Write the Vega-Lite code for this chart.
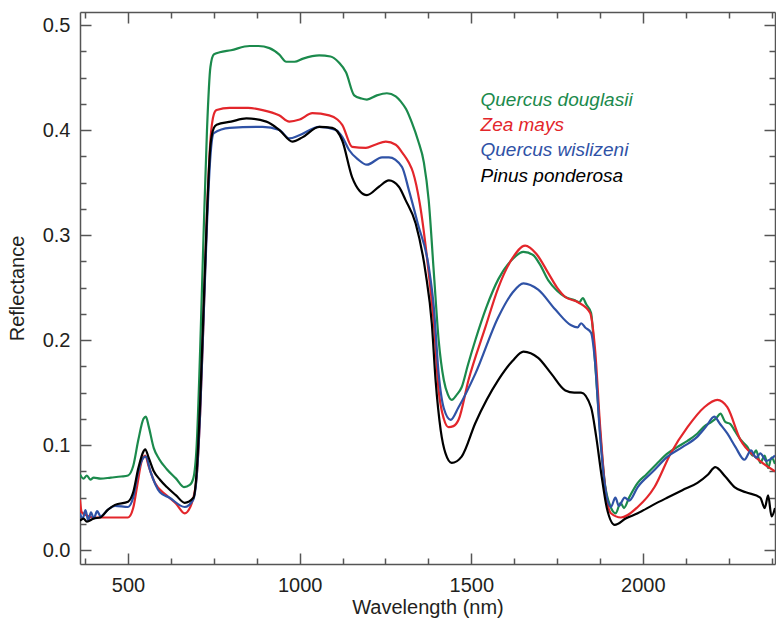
{
  "$schema": "https://vega.github.io/schema/vega-lite/v6.json",
  "autosize": "none",
  "width": 695,
  "height": 552,
  "padding": {"left": 80, "top": 12, "right": 1, "bottom": 55},
  "background": "white",
  "config": {
    "view": {"stroke": null},
    "font": "Liberation Sans",
    "axis": {
      "grid": false,
      "labelFont": "Liberation Sans",
      "labelFontSize": 20,
      "labelColor": "#231f20",
      "titleFont": "Liberation Sans",
      "titleFontSize": 20,
      "titleFontWeight": "normal",
      "titleColor": "#231f20",
      "domainColor": "#555555",
      "tickColor": "#555555",
      "domainWidth": 1.5,
      "tickWidth": 1.5
    }
  },
  "datasets": {
    "labels": [
      {"species": "Quercus douglasii", "wl": 1527, "r": 0.4286},
      {"species": "Zea mays", "wl": 1527, "r": 0.4048},
      {"species": "Quercus wislizeni", "wl": 1527, "r": 0.381},
      {"species": "Pinus ponderosa", "wl": 1527, "r": 0.356}
    ],
    "spectra": [
      {"species": "Quercus douglasii", "wl": 360, "r": 0.072},
      {"species": "Quercus douglasii", "wl": 370, "r": 0.068},
      {"species": "Quercus douglasii", "wl": 380, "r": 0.071},
      {"species": "Quercus douglasii", "wl": 390, "r": 0.067},
      {"species": "Quercus douglasii", "wl": 400, "r": 0.069},
      {"species": "Quercus douglasii", "wl": 420, "r": 0.068},
      {"species": "Quercus douglasii", "wl": 450, "r": 0.069},
      {"species": "Quercus douglasii", "wl": 480, "r": 0.070},
      {"species": "Quercus douglasii", "wl": 500, "r": 0.071},
      {"species": "Quercus douglasii", "wl": 515, "r": 0.080},
      {"species": "Quercus douglasii", "wl": 530, "r": 0.105},
      {"species": "Quercus douglasii", "wl": 545, "r": 0.125},
      {"species": "Quercus douglasii", "wl": 552, "r": 0.127},
      {"species": "Quercus douglasii", "wl": 560, "r": 0.118},
      {"species": "Quercus douglasii", "wl": 575, "r": 0.097},
      {"species": "Quercus douglasii", "wl": 590, "r": 0.087},
      {"species": "Quercus douglasii", "wl": 613, "r": 0.077},
      {"species": "Quercus douglasii", "wl": 640, "r": 0.068},
      {"species": "Quercus douglasii", "wl": 663, "r": 0.060},
      {"species": "Quercus douglasii", "wl": 680, "r": 0.062},
      {"species": "Quercus douglasii", "wl": 690, "r": 0.068},
      {"species": "Quercus douglasii", "wl": 700, "r": 0.10},
      {"species": "Quercus douglasii", "wl": 710, "r": 0.19},
      {"species": "Quercus douglasii", "wl": 720, "r": 0.30},
      {"species": "Quercus douglasii", "wl": 730, "r": 0.40},
      {"species": "Quercus douglasii", "wl": 740, "r": 0.46},
      {"species": "Quercus douglasii", "wl": 750, "r": 0.472},
      {"species": "Quercus douglasii", "wl": 767, "r": 0.474},
      {"species": "Quercus douglasii", "wl": 800, "r": 0.476},
      {"species": "Quercus douglasii", "wl": 854, "r": 0.480},
      {"species": "Quercus douglasii", "wl": 880, "r": 0.480},
      {"species": "Quercus douglasii", "wl": 912, "r": 0.478},
      {"species": "Quercus douglasii", "wl": 940, "r": 0.472},
      {"species": "Quercus douglasii", "wl": 961, "r": 0.465},
      {"species": "Quercus douglasii", "wl": 985, "r": 0.465},
      {"species": "Quercus douglasii", "wl": 1010, "r": 0.468},
      {"species": "Quercus douglasii", "wl": 1057, "r": 0.471},
      {"species": "Quercus douglasii", "wl": 1090, "r": 0.470},
      {"species": "Quercus douglasii", "wl": 1115, "r": 0.464},
      {"species": "Quercus douglasii", "wl": 1135, "r": 0.455},
      {"species": "Quercus douglasii", "wl": 1159, "r": 0.433},
      {"species": "Quercus douglasii", "wl": 1180, "r": 0.430},
      {"species": "Quercus douglasii", "wl": 1196, "r": 0.429},
      {"species": "Quercus douglasii", "wl": 1225, "r": 0.433},
      {"species": "Quercus douglasii", "wl": 1254, "r": 0.435},
      {"species": "Quercus douglasii", "wl": 1280, "r": 0.432},
      {"species": "Quercus douglasii", "wl": 1295, "r": 0.427},
      {"species": "Quercus douglasii", "wl": 1310, "r": 0.420},
      {"species": "Quercus douglasii", "wl": 1327, "r": 0.407},
      {"species": "Quercus douglasii", "wl": 1345, "r": 0.390},
      {"species": "Quercus douglasii", "wl": 1362, "r": 0.369},
      {"species": "Quercus douglasii", "wl": 1376, "r": 0.333},
      {"species": "Quercus douglasii", "wl": 1391, "r": 0.264},
      {"species": "Quercus douglasii", "wl": 1405, "r": 0.200},
      {"species": "Quercus douglasii", "wl": 1420, "r": 0.162},
      {"species": "Quercus douglasii", "wl": 1432, "r": 0.148},
      {"species": "Quercus douglasii", "wl": 1443, "r": 0.143},
      {"species": "Quercus douglasii", "wl": 1458, "r": 0.148},
      {"species": "Quercus douglasii", "wl": 1472, "r": 0.155},
      {"species": "Quercus douglasii", "wl": 1490, "r": 0.176},
      {"species": "Quercus douglasii", "wl": 1512, "r": 0.200},
      {"species": "Quercus douglasii", "wl": 1545, "r": 0.232},
      {"species": "Quercus douglasii", "wl": 1579, "r": 0.258},
      {"species": "Quercus douglasii", "wl": 1617, "r": 0.276},
      {"species": "Quercus douglasii", "wl": 1652, "r": 0.284},
      {"species": "Quercus douglasii", "wl": 1680, "r": 0.281},
      {"species": "Quercus douglasii", "wl": 1700, "r": 0.272},
      {"species": "Quercus douglasii", "wl": 1724, "r": 0.257},
      {"species": "Quercus douglasii", "wl": 1750, "r": 0.247},
      {"species": "Quercus douglasii", "wl": 1774, "r": 0.241},
      {"species": "Quercus douglasii", "wl": 1800, "r": 0.238},
      {"species": "Quercus douglasii", "wl": 1815, "r": 0.236},
      {"species": "Quercus douglasii", "wl": 1825, "r": 0.240},
      {"species": "Quercus douglasii", "wl": 1835, "r": 0.234},
      {"species": "Quercus douglasii", "wl": 1849, "r": 0.226},
      {"species": "Quercus douglasii", "wl": 1861, "r": 0.178},
      {"species": "Quercus douglasii", "wl": 1875, "r": 0.114},
      {"species": "Quercus douglasii", "wl": 1889, "r": 0.064},
      {"species": "Quercus douglasii", "wl": 1905, "r": 0.042},
      {"species": "Quercus douglasii", "wl": 1921, "r": 0.035},
      {"species": "Quercus douglasii", "wl": 1935, "r": 0.045},
      {"species": "Quercus douglasii", "wl": 1945, "r": 0.040},
      {"species": "Quercus douglasii", "wl": 1960, "r": 0.050},
      {"species": "Quercus douglasii", "wl": 1985, "r": 0.064},
      {"species": "Quercus douglasii", "wl": 2010, "r": 0.072},
      {"species": "Quercus douglasii", "wl": 2040, "r": 0.082},
      {"species": "Quercus douglasii", "wl": 2072, "r": 0.092},
      {"species": "Quercus douglasii", "wl": 2100, "r": 0.098},
      {"species": "Quercus douglasii", "wl": 2130, "r": 0.104},
      {"species": "Quercus douglasii", "wl": 2159, "r": 0.111},
      {"species": "Quercus douglasii", "wl": 2180, "r": 0.118},
      {"species": "Quercus douglasii", "wl": 2200, "r": 0.122},
      {"species": "Quercus douglasii", "wl": 2215, "r": 0.126},
      {"species": "Quercus douglasii", "wl": 2226, "r": 0.130},
      {"species": "Quercus douglasii", "wl": 2240, "r": 0.122},
      {"species": "Quercus douglasii", "wl": 2255, "r": 0.120},
      {"species": "Quercus douglasii", "wl": 2267, "r": 0.114},
      {"species": "Quercus douglasii", "wl": 2285, "r": 0.105},
      {"species": "Quercus douglasii", "wl": 2305, "r": 0.098},
      {"species": "Quercus douglasii", "wl": 2320, "r": 0.090},
      {"species": "Quercus douglasii", "wl": 2330, "r": 0.095},
      {"species": "Quercus douglasii", "wl": 2342, "r": 0.083},
      {"species": "Quercus douglasii", "wl": 2355, "r": 0.090},
      {"species": "Quercus douglasii", "wl": 2365, "r": 0.078},
      {"species": "Quercus douglasii", "wl": 2375, "r": 0.088},
      {"species": "Quercus douglasii", "wl": 2385, "r": 0.082},

      {"species": "Zea mays", "wl": 360, "r": 0.048},
      {"species": "Zea mays", "wl": 365, "r": 0.036},
      {"species": "Zea mays", "wl": 380, "r": 0.033},
      {"species": "Zea mays", "wl": 400, "r": 0.031},
      {"species": "Zea mays", "wl": 430, "r": 0.031},
      {"species": "Zea mays", "wl": 470, "r": 0.031},
      {"species": "Zea mays", "wl": 500, "r": 0.031},
      {"species": "Zea mays", "wl": 515, "r": 0.040},
      {"species": "Zea mays", "wl": 526, "r": 0.060},
      {"species": "Zea mays", "wl": 540, "r": 0.085},
      {"species": "Zea mays", "wl": 550, "r": 0.090},
      {"species": "Zea mays", "wl": 560, "r": 0.080},
      {"species": "Zea mays", "wl": 578, "r": 0.064},
      {"species": "Zea mays", "wl": 613, "r": 0.052},
      {"species": "Zea mays", "wl": 640, "r": 0.044},
      {"species": "Zea mays", "wl": 665, "r": 0.035},
      {"species": "Zea mays", "wl": 686, "r": 0.045},
      {"species": "Zea mays", "wl": 700, "r": 0.07},
      {"species": "Zea mays", "wl": 710, "r": 0.13},
      {"species": "Zea mays", "wl": 720, "r": 0.22},
      {"species": "Zea mays", "wl": 730, "r": 0.32},
      {"species": "Zea mays", "wl": 740, "r": 0.39},
      {"species": "Zea mays", "wl": 750, "r": 0.415},
      {"species": "Zea mays", "wl": 758, "r": 0.419},
      {"species": "Zea mays", "wl": 796, "r": 0.421},
      {"species": "Zea mays", "wl": 850, "r": 0.421},
      {"species": "Zea mays", "wl": 892, "r": 0.419},
      {"species": "Zea mays", "wl": 940, "r": 0.414},
      {"species": "Zea mays", "wl": 970, "r": 0.408},
      {"species": "Zea mays", "wl": 1000, "r": 0.410},
      {"species": "Zea mays", "wl": 1037, "r": 0.416},
      {"species": "Zea mays", "wl": 1086, "r": 0.414},
      {"species": "Zea mays", "wl": 1110, "r": 0.410},
      {"species": "Zea mays", "wl": 1124, "r": 0.405},
      {"species": "Zea mays", "wl": 1153, "r": 0.384},
      {"species": "Zea mays", "wl": 1193, "r": 0.383},
      {"species": "Zea mays", "wl": 1220, "r": 0.386},
      {"species": "Zea mays", "wl": 1251, "r": 0.389},
      {"species": "Zea mays", "wl": 1280, "r": 0.386},
      {"species": "Zea mays", "wl": 1300, "r": 0.378},
      {"species": "Zea mays", "wl": 1318, "r": 0.369},
      {"species": "Zea mays", "wl": 1330, "r": 0.360},
      {"species": "Zea mays", "wl": 1350, "r": 0.330},
      {"species": "Zea mays", "wl": 1376, "r": 0.264},
      {"species": "Zea mays", "wl": 1391, "r": 0.216},
      {"species": "Zea mays", "wl": 1405, "r": 0.152},
      {"species": "Zea mays", "wl": 1420, "r": 0.125},
      {"species": "Zea mays", "wl": 1434, "r": 0.117},
      {"species": "Zea mays", "wl": 1448, "r": 0.118},
      {"species": "Zea mays", "wl": 1463, "r": 0.124},
      {"species": "Zea mays", "wl": 1492, "r": 0.162},
      {"species": "Zea mays", "wl": 1541, "r": 0.212},
      {"species": "Zea mays", "wl": 1579, "r": 0.250},
      {"species": "Zea mays", "wl": 1620, "r": 0.278},
      {"species": "Zea mays", "wl": 1657, "r": 0.290},
      {"species": "Zea mays", "wl": 1690, "r": 0.282},
      {"species": "Zea mays", "wl": 1724, "r": 0.264},
      {"species": "Zea mays", "wl": 1750, "r": 0.250},
      {"species": "Zea mays", "wl": 1774, "r": 0.241},
      {"species": "Zea mays", "wl": 1811, "r": 0.236},
      {"species": "Zea mays", "wl": 1846, "r": 0.226},
      {"species": "Zea mays", "wl": 1861, "r": 0.190},
      {"species": "Zea mays", "wl": 1875, "r": 0.120},
      {"species": "Zea mays", "wl": 1890, "r": 0.060},
      {"species": "Zea mays", "wl": 1907, "r": 0.035},
      {"species": "Zea mays", "wl": 1936, "r": 0.031},
      {"species": "Zea mays", "wl": 1985, "r": 0.041},
      {"species": "Zea mays", "wl": 2034, "r": 0.060},
      {"species": "Zea mays", "wl": 2081, "r": 0.092},
      {"species": "Zea mays", "wl": 2130, "r": 0.117},
      {"species": "Zea mays", "wl": 2179, "r": 0.136},
      {"species": "Zea mays", "wl": 2217, "r": 0.143},
      {"species": "Zea mays", "wl": 2246, "r": 0.136},
      {"species": "Zea mays", "wl": 2284, "r": 0.105},
      {"species": "Zea mays", "wl": 2330, "r": 0.088},
      {"species": "Zea mays", "wl": 2385, "r": 0.075},

      {"species": "Quercus wislizeni", "wl": 360, "r": 0.035},
      {"species": "Quercus wislizeni", "wl": 368, "r": 0.030},
      {"species": "Quercus wislizeni", "wl": 376, "r": 0.038},
      {"species": "Quercus wislizeni", "wl": 384, "r": 0.028},
      {"species": "Quercus wislizeni", "wl": 392, "r": 0.036},
      {"species": "Quercus wislizeni", "wl": 400, "r": 0.030},
      {"species": "Quercus wislizeni", "wl": 410, "r": 0.037},
      {"species": "Quercus wislizeni", "wl": 420, "r": 0.032},
      {"species": "Quercus wislizeni", "wl": 440, "r": 0.038},
      {"species": "Quercus wislizeni", "wl": 462, "r": 0.042},
      {"species": "Quercus wislizeni", "wl": 500, "r": 0.041},
      {"species": "Quercus wislizeni", "wl": 515, "r": 0.050},
      {"species": "Quercus wislizeni", "wl": 530, "r": 0.075},
      {"species": "Quercus wislizeni", "wl": 545, "r": 0.088},
      {"species": "Quercus wislizeni", "wl": 552, "r": 0.089},
      {"species": "Quercus wislizeni", "wl": 565, "r": 0.075},
      {"species": "Quercus wislizeni", "wl": 593, "r": 0.055},
      {"species": "Quercus wislizeni", "wl": 620, "r": 0.050},
      {"species": "Quercus wislizeni", "wl": 665, "r": 0.041},
      {"species": "Quercus wislizeni", "wl": 690, "r": 0.048},
      {"species": "Quercus wislizeni", "wl": 700, "r": 0.07},
      {"species": "Quercus wislizeni", "wl": 710, "r": 0.13},
      {"species": "Quercus wislizeni", "wl": 720, "r": 0.22},
      {"species": "Quercus wislizeni", "wl": 730, "r": 0.31},
      {"species": "Quercus wislizeni", "wl": 740, "r": 0.375},
      {"species": "Quercus wislizeni", "wl": 750, "r": 0.397},
      {"species": "Quercus wislizeni", "wl": 796, "r": 0.402},
      {"species": "Quercus wislizeni", "wl": 892, "r": 0.403},
      {"species": "Quercus wislizeni", "wl": 941, "r": 0.400},
      {"species": "Quercus wislizeni", "wl": 970, "r": 0.392},
      {"species": "Quercus wislizeni", "wl": 999, "r": 0.395},
      {"species": "Quercus wislizeni", "wl": 1057, "r": 0.403},
      {"species": "Quercus wislizeni", "wl": 1106, "r": 0.400},
      {"species": "Quercus wislizeni", "wl": 1125, "r": 0.393},
      {"species": "Quercus wislizeni", "wl": 1144, "r": 0.381},
      {"species": "Quercus wislizeni", "wl": 1170, "r": 0.372},
      {"species": "Quercus wislizeni", "wl": 1196, "r": 0.367},
      {"species": "Quercus wislizeni", "wl": 1240, "r": 0.374},
      {"species": "Quercus wislizeni", "wl": 1260, "r": 0.374},
      {"species": "Quercus wislizeni", "wl": 1298, "r": 0.365},
      {"species": "Quercus wislizeni", "wl": 1318, "r": 0.343},
      {"species": "Quercus wislizeni", "wl": 1345, "r": 0.310},
      {"species": "Quercus wislizeni", "wl": 1376, "r": 0.270},
      {"species": "Quercus wislizeni", "wl": 1391, "r": 0.231},
      {"species": "Quercus wislizeni", "wl": 1405, "r": 0.168},
      {"species": "Quercus wislizeni", "wl": 1420, "r": 0.135},
      {"species": "Quercus wislizeni", "wl": 1440, "r": 0.124},
      {"species": "Quercus wislizeni", "wl": 1463, "r": 0.136},
      {"species": "Quercus wislizeni", "wl": 1512, "r": 0.168},
      {"species": "Quercus wislizeni", "wl": 1579, "r": 0.222},
      {"species": "Quercus wislizeni", "wl": 1620, "r": 0.245},
      {"species": "Quercus wislizeni", "wl": 1652, "r": 0.254},
      {"species": "Quercus wislizeni", "wl": 1695, "r": 0.248},
      {"species": "Quercus wislizeni", "wl": 1745, "r": 0.229},
      {"species": "Quercus wislizeni", "wl": 1791, "r": 0.214},
      {"species": "Quercus wislizeni", "wl": 1810, "r": 0.212},
      {"species": "Quercus wislizeni", "wl": 1820, "r": 0.216},
      {"species": "Quercus wislizeni", "wl": 1832, "r": 0.212},
      {"species": "Quercus wislizeni", "wl": 1849, "r": 0.207},
      {"species": "Quercus wislizeni", "wl": 1861, "r": 0.178},
      {"species": "Quercus wislizeni", "wl": 1875, "r": 0.110},
      {"species": "Quercus wislizeni", "wl": 1890, "r": 0.060},
      {"species": "Quercus wislizeni", "wl": 1907, "r": 0.041},
      {"species": "Quercus wislizeni", "wl": 1920, "r": 0.050},
      {"species": "Quercus wislizeni", "wl": 1930, "r": 0.042},
      {"species": "Quercus wislizeni", "wl": 1947, "r": 0.050},
      {"species": "Quercus wislizeni", "wl": 1960, "r": 0.047},
      {"species": "Quercus wislizeni", "wl": 1985, "r": 0.060},
      {"species": "Quercus wislizeni", "wl": 2030, "r": 0.075},
      {"species": "Quercus wislizeni", "wl": 2072, "r": 0.089},
      {"species": "Quercus wislizeni", "wl": 2115, "r": 0.098},
      {"species": "Quercus wislizeni", "wl": 2159, "r": 0.108},
      {"species": "Quercus wislizeni", "wl": 2185, "r": 0.118},
      {"species": "Quercus wislizeni", "wl": 2208, "r": 0.127},
      {"species": "Quercus wislizeni", "wl": 2225, "r": 0.120},
      {"species": "Quercus wislizeni", "wl": 2246, "r": 0.111},
      {"species": "Quercus wislizeni", "wl": 2270, "r": 0.098},
      {"species": "Quercus wislizeni", "wl": 2296, "r": 0.086},
      {"species": "Quercus wislizeni", "wl": 2315, "r": 0.095},
      {"species": "Quercus wislizeni", "wl": 2330, "r": 0.088},
      {"species": "Quercus wislizeni", "wl": 2342, "r": 0.092},
      {"species": "Quercus wislizeni", "wl": 2360, "r": 0.085},
      {"species": "Quercus wislizeni", "wl": 2385, "r": 0.090},

      {"species": "Pinus ponderosa", "wl": 360, "r": 0.028},
      {"species": "Pinus ponderosa", "wl": 370, "r": 0.030},
      {"species": "Pinus ponderosa", "wl": 380, "r": 0.027},
      {"species": "Pinus ponderosa", "wl": 400, "r": 0.030},
      {"species": "Pinus ponderosa", "wl": 419, "r": 0.031},
      {"species": "Pinus ponderosa", "wl": 440, "r": 0.038},
      {"species": "Pinus ponderosa", "wl": 462, "r": 0.043},
      {"species": "Pinus ponderosa", "wl": 500, "r": 0.046},
      {"species": "Pinus ponderosa", "wl": 515, "r": 0.055},
      {"species": "Pinus ponderosa", "wl": 530, "r": 0.078},
      {"species": "Pinus ponderosa", "wl": 545, "r": 0.094},
      {"species": "Pinus ponderosa", "wl": 550, "r": 0.096},
      {"species": "Pinus ponderosa", "wl": 560, "r": 0.088},
      {"species": "Pinus ponderosa", "wl": 575, "r": 0.075},
      {"species": "Pinus ponderosa", "wl": 593, "r": 0.067},
      {"species": "Pinus ponderosa", "wl": 613, "r": 0.060},
      {"species": "Pinus ponderosa", "wl": 640, "r": 0.052},
      {"species": "Pinus ponderosa", "wl": 665, "r": 0.045},
      {"species": "Pinus ponderosa", "wl": 691, "r": 0.050},
      {"species": "Pinus ponderosa", "wl": 700, "r": 0.075},
      {"species": "Pinus ponderosa", "wl": 710, "r": 0.14},
      {"species": "Pinus ponderosa", "wl": 720, "r": 0.23},
      {"species": "Pinus ponderosa", "wl": 730, "r": 0.32},
      {"species": "Pinus ponderosa", "wl": 740, "r": 0.385},
      {"species": "Pinus ponderosa", "wl": 750, "r": 0.402},
      {"species": "Pinus ponderosa", "wl": 758, "r": 0.405},
      {"species": "Pinus ponderosa", "wl": 800, "r": 0.408},
      {"species": "Pinus ponderosa", "wl": 845, "r": 0.411},
      {"species": "Pinus ponderosa", "wl": 903, "r": 0.408},
      {"species": "Pinus ponderosa", "wl": 941, "r": 0.400},
      {"species": "Pinus ponderosa", "wl": 979, "r": 0.389},
      {"species": "Pinus ponderosa", "wl": 1008, "r": 0.393},
      {"species": "Pinus ponderosa", "wl": 1057, "r": 0.403},
      {"species": "Pinus ponderosa", "wl": 1095, "r": 0.402},
      {"species": "Pinus ponderosa", "wl": 1124, "r": 0.390},
      {"species": "Pinus ponderosa", "wl": 1153, "r": 0.355},
      {"species": "Pinus ponderosa", "wl": 1175, "r": 0.342},
      {"species": "Pinus ponderosa", "wl": 1196, "r": 0.338},
      {"species": "Pinus ponderosa", "wl": 1231, "r": 0.346},
      {"species": "Pinus ponderosa", "wl": 1260, "r": 0.352},
      {"species": "Pinus ponderosa", "wl": 1289, "r": 0.346},
      {"species": "Pinus ponderosa", "wl": 1309, "r": 0.333},
      {"species": "Pinus ponderosa", "wl": 1338, "r": 0.311},
      {"species": "Pinus ponderosa", "wl": 1367, "r": 0.264},
      {"species": "Pinus ponderosa", "wl": 1385, "r": 0.216},
      {"species": "Pinus ponderosa", "wl": 1396, "r": 0.162},
      {"species": "Pinus ponderosa", "wl": 1411, "r": 0.114},
      {"species": "Pinus ponderosa", "wl": 1425, "r": 0.092},
      {"species": "Pinus ponderosa", "wl": 1443, "r": 0.083},
      {"species": "Pinus ponderosa", "wl": 1472, "r": 0.089},
      {"species": "Pinus ponderosa", "wl": 1512, "r": 0.121},
      {"species": "Pinus ponderosa", "wl": 1579, "r": 0.162},
      {"species": "Pinus ponderosa", "wl": 1620, "r": 0.180},
      {"species": "Pinus ponderosa", "wl": 1652, "r": 0.189},
      {"species": "Pinus ponderosa", "wl": 1695, "r": 0.183},
      {"species": "Pinus ponderosa", "wl": 1733, "r": 0.168},
      {"species": "Pinus ponderosa", "wl": 1774, "r": 0.152},
      {"species": "Pinus ponderosa", "wl": 1800, "r": 0.150},
      {"species": "Pinus ponderosa", "wl": 1820, "r": 0.150},
      {"species": "Pinus ponderosa", "wl": 1849, "r": 0.136},
      {"species": "Pinus ponderosa", "wl": 1864, "r": 0.108},
      {"species": "Pinus ponderosa", "wl": 1880, "r": 0.070},
      {"species": "Pinus ponderosa", "wl": 1895, "r": 0.040},
      {"species": "Pinus ponderosa", "wl": 1918, "r": 0.024},
      {"species": "Pinus ponderosa", "wl": 1950, "r": 0.030},
      {"species": "Pinus ponderosa", "wl": 1985, "r": 0.035},
      {"species": "Pinus ponderosa", "wl": 2030, "r": 0.043},
      {"species": "Pinus ponderosa", "wl": 2072, "r": 0.050},
      {"species": "Pinus ponderosa", "wl": 2115, "r": 0.057},
      {"species": "Pinus ponderosa", "wl": 2159, "r": 0.064},
      {"species": "Pinus ponderosa", "wl": 2190, "r": 0.072},
      {"species": "Pinus ponderosa", "wl": 2211, "r": 0.079},
      {"species": "Pinus ponderosa", "wl": 2240, "r": 0.070},
      {"species": "Pinus ponderosa", "wl": 2267, "r": 0.060},
      {"species": "Pinus ponderosa", "wl": 2300, "r": 0.055},
      {"species": "Pinus ponderosa", "wl": 2342, "r": 0.050},
      {"species": "Pinus ponderosa", "wl": 2355, "r": 0.040},
      {"species": "Pinus ponderosa", "wl": 2365, "r": 0.052},
      {"species": "Pinus ponderosa", "wl": 2375, "r": 0.032},
      {"species": "Pinus ponderosa", "wl": 2385, "r": 0.040}
    ]
  },
  "resolve": {
    "scale": {"x": "shared", "y": "shared", "color": "shared"},
    "axis": {"x": "independent", "y": "independent"}
  },
  "layer": [
    {
      "data": {"name": "spectra"},
      "mark": {"type": "line", "strokeWidth": 2.2, "clip": true, "interpolate": "monotone"},
      "encoding": {
        "x": {
          "field": "wl", "type": "quantitative",
          "scale": {"domain": [360, 2385], "nice": false, "zero": false},
          "axis": {
            "orient": "bottom", "values": [500, 1000, 1500, 2000], "format": "d",
            "tickSize": -11, "labelPadding": 22, "title": "Wavelength (nm)",
            "labelFontSize": 20, "titleFontSize": 20, "labelFont": "Liberation Sans", "titleFont": "Liberation Sans",
            "titleFontWeight": "normal", "labelColor": "#231f20", "titleColor": "#231f20",
            "titlePadding": 2, "labelFlush": false
          }
        },
        "y": {
          "field": "r", "type": "quantitative",
          "scale": {"domain": [-0.0133, 0.5124], "nice": false, "zero": false},
          "axis": {
            "orient": "left", "values": [0, 0.1, 0.2, 0.3, 0.4, 0.5], "format": ".1f",
            "tickSize": -11, "labelPadding": 21, "title": "Reflectance",
            "labelFontSize": 20, "titleFontSize": 20, "labelFont": "Liberation Sans", "titleFont": "Liberation Sans",
            "titleFontWeight": "normal", "labelColor": "#231f20", "titleColor": "#231f20",
            "titlePadding": 15, "labelFlush": false
          }
        },
        "color": {
          "field": "species", "type": "nominal", "legend": null,
          "scale": {
            "domain": ["Quercus douglasii", "Zea mays", "Quercus wislizeni", "Pinus ponderosa"],
            "range": ["#1b8a4c", "#e3262b", "#2f52a6", "#000000"]
          }
        },
        "detail": {"field": "species"}
      }
    },
    {
      "data": {"name": "labels"},
      "mark": {"type": "text", "align": "left", "baseline": "middle", "fontStyle": "italic", "fontSize": 19, "font": "Liberation Sans"},
      "encoding": {
        "x": {
          "field": "wl", "type": "quantitative",
          "axis": {"orient": "bottom", "values": [375, 625, 750, 875, 1125, 1250, 1375, 1625, 1750, 1875, 2125, 2250, 2375], "tickSize": -6, "labels": false, "domain": false, "title": null}
        },
        "y": {
          "field": "r", "type": "quantitative",
          "axis": {"orient": "left", "values": [0.025, 0.05, 0.075, 0.125, 0.15, 0.175, 0.225, 0.25, 0.275, 0.325, 0.35, 0.375, 0.425, 0.45, 0.475], "tickSize": -6, "labels": false, "domain": false, "title": null}
        },
        "text": {"field": "species"},
        "color": {"field": "species", "type": "nominal", "legend": null}
      }
    },
    {
      "data": {"name": "labels"},
      "mark": {"type": "point", "opacity": 0},
      "encoding": {
        "x": {
          "field": "wl", "type": "quantitative",
          "axis": {"orient": "top", "values": [500, 1000, 1500, 2000], "tickSize": -11, "labels": false, "domain": true, "title": null}
        },
        "y": {
          "field": "r", "type": "quantitative",
          "axis": {"orient": "right", "values": [0, 0.1, 0.2, 0.3, 0.4, 0.5], "tickSize": -11, "labels": false, "domain": true, "title": null}
        }
      }
    },
    {
      "data": {"name": "labels"},
      "mark": {"type": "point", "opacity": 0},
      "encoding": {
        "x": {
          "field": "wl", "type": "quantitative",
          "axis": {"orient": "top", "values": [375, 625, 750, 875, 1125, 1250, 1375, 1625, 1750, 1875, 2125, 2250, 2375], "tickSize": -6, "labels": false, "domain": false, "title": null}
        },
        "y": {
          "field": "r", "type": "quantitative",
          "axis": {"orient": "right", "values": [0.025, 0.05, 0.075, 0.125, 0.15, 0.175, 0.225, 0.25, 0.275, 0.325, 0.35, 0.375, 0.425, 0.45, 0.475], "tickSize": -6, "labels": false, "domain": false, "title": null}
        }
      }
    }
  ]
}
